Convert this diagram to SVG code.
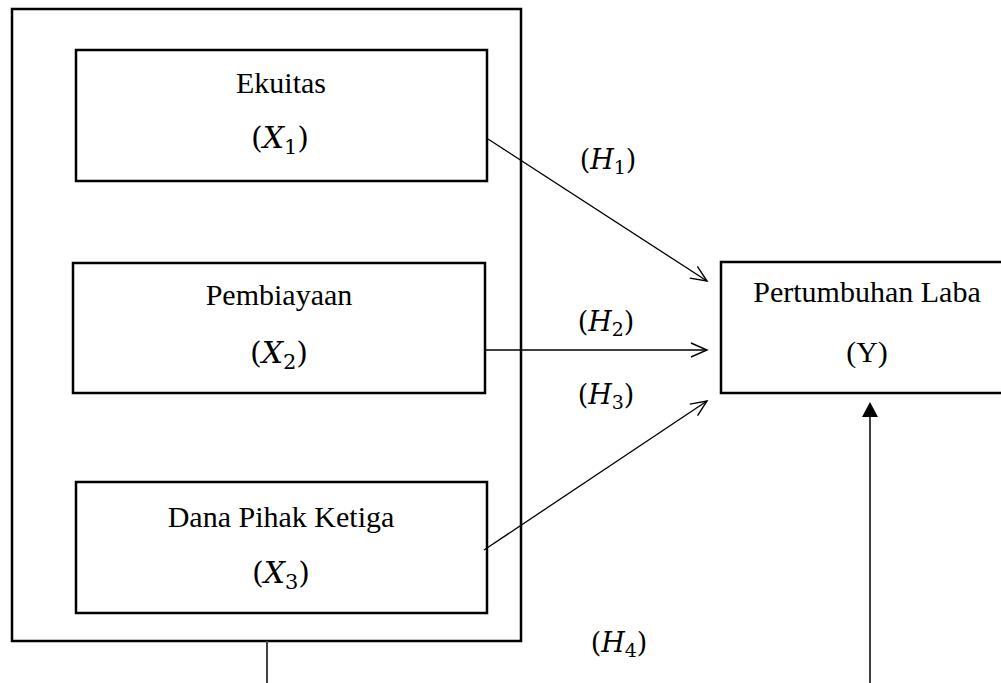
<svg xmlns="http://www.w3.org/2000/svg" width="1001" height="683" viewBox="0 0 1001 683">
<style>
.box{fill:none;stroke:#000;stroke-width:2.5}
.t{font-family:"Liberation Serif","Times New Roman",serif;font-size:30px;fill:#000;text-anchor:middle}
.m{font-family:"DejaVu Serif","Liberation Serif",serif;font-size:30px;fill:#000;text-anchor:middle}
.h{font-family:"DejaVu Serif","Liberation Serif",serif;font-size:27px;fill:#000;text-anchor:middle}
.c{fill:none;stroke:#000;stroke-width:1.3}
</style>
<defs>
<marker id="open" viewBox="0 0 20 20" refX="18" refY="10" markerWidth="20" markerHeight="20" markerUnits="userSpaceOnUse" orient="auto">
<path d="M2,3 L18,10 L2,17" fill="none" stroke="#000" stroke-width="1.4"/>
</marker>
</defs>
<rect width="1001" height="683" fill="#fff"/>
<g id="outer"><rect class="box" x="12" y="9" width="509" height="632"/></g>
<g id="x1">
<rect class="box" x="76" y="50" width="411" height="131"/>
<text class="t" x="281" y="93">Ekuitas</text>
<text class="m" x="280" y="148">(<tspan font-style="italic">X</tspan><tspan font-size="21" dy="6">1</tspan><tspan dy="-6">)</tspan></text>
</g>
<g id="x2">
<rect class="box" x="73" y="263" width="412" height="130"/>
<text class="t" x="279" y="305">Pembiayaan</text>
<text class="m" x="279" y="363">(<tspan font-style="italic">X</tspan><tspan font-size="21" dy="6">2</tspan><tspan dy="-6">)</tspan></text>
</g>
<g id="x3">
<rect class="box" x="76" y="482" width="411" height="131"/>
<text class="t" x="281" y="527">Dana Pihak Ketiga</text>
<text class="m" x="281" y="583">(<tspan font-style="italic">X</tspan><tspan font-size="21" dy="6">3</tspan><tspan dy="-6">)</tspan></text>
</g>
<g id="y">
<rect class="box" x="721" y="262" width="300" height="131"/>
<text class="t" x="867" y="302">Pertumbuhan Laba</text>
<text class="t" x="867" y="362">(Y)</text>
</g>
<g id="connectors">
<line class="c" x1="488" y1="139" x2="707" y2="281" marker-end="url(#open)"/>
<line class="c" x1="485" y1="350" x2="707" y2="350" marker-end="url(#open)"/>
<line class="c" x1="484" y1="550" x2="707" y2="401" marker-end="url(#open)"/>
<line x1="267" y1="641" x2="267" y2="683" stroke="#444" stroke-width="2"/>
<line x1="870" y1="683" x2="870" y2="415" stroke="#000" stroke-width="1.5"/>
<polygon points="870,402 862,417 878,417" fill="#000"/>
</g>
<g id="labels">
<text class="h" x="608" y="169">(<tspan font-style="italic">H</tspan><tspan font-size="19" dy="5">1</tspan><tspan dy="-5">)</tspan></text>
<text class="h" x="606" y="331">(<tspan font-style="italic">H</tspan><tspan font-size="19" dy="5">2</tspan><tspan dy="-5">)</tspan></text>
<text class="h" x="606" y="404">(<tspan font-style="italic">H</tspan><tspan font-size="19" dy="5">3</tspan><tspan dy="-5">)</tspan></text>
<text class="h" x="619" y="652">(<tspan font-style="italic">H</tspan><tspan font-size="19" dy="5">4</tspan><tspan dy="-5">)</tspan></text>
</g>
</svg>
